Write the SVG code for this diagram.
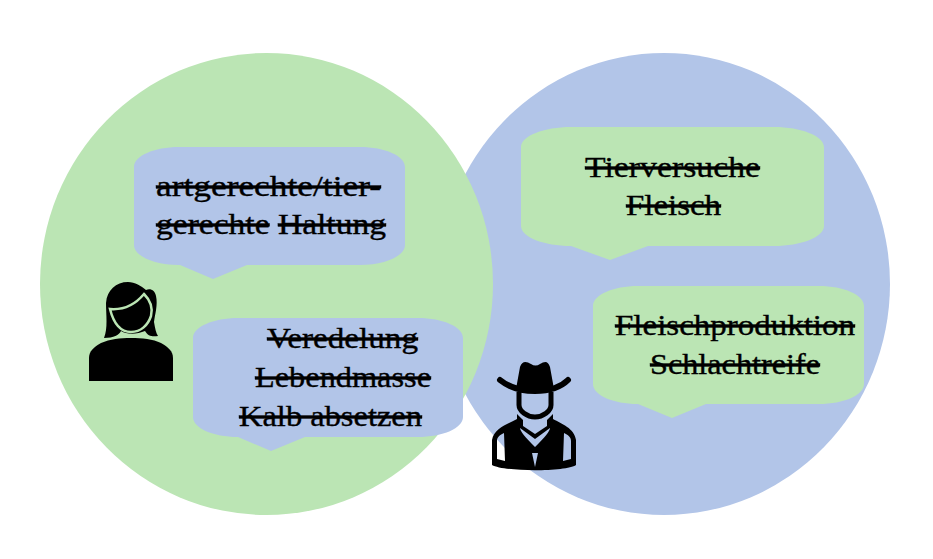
<svg xmlns="http://www.w3.org/2000/svg" width="933" height="559" viewBox="0 0 933 559">
<style>
.g{fill:#bbe5b4}
.b{fill:#b2c5e8}
text{font-family:"Liberation Serif","Times New Roman",serif;font-size:30px;fill:#000;stroke:#000;stroke-width:.35}
.s{text-decoration:line-through}
</style>
<rect width="933" height="559" fill="#fff"/>
<g id="circle-right"><ellipse class="b" cx="664" cy="284" rx="226" ry="231"/></g>
<g id="circle-left"><ellipse class="g" cx="266.500" cy="284" rx="226.500" ry="231"/></g>
<g id="bubble-1">
<path class="b" d="M134 167C134 156 154 147 179 147H360C385 147 405 156 405 167V245C405 256 385 265 360 265H247L213 279L180 265H179C154 265 134 256 134 245Z"/>
<text class="s" x="156" y="196" textLength="225" lengthAdjust="spacingAndGlyphs">artgerechte/tier-</text>
<text x="156" y="234" textLength="230" lengthAdjust="spacingAndGlyphs"><tspan class="s">gerechte</tspan> <tspan class="s">Haltung</tspan></text>
</g>
<g id="bubble-2">
<path class="b" d="M193 338C193 327 213 318 238 318H418C443 318 463 327 463 338V417C463 428 443 437 418 437H305L271 451L238 437C213 437 193 428 193 417Z"/>
<text class="s" x="267" y="348" textLength="151" lengthAdjust="spacingAndGlyphs">Veredelung</text>
<text class="s" x="255" y="387" textLength="176" lengthAdjust="spacingAndGlyphs">Lebendmasse</text>
<text class="s" x="239" y="426" textLength="183" lengthAdjust="spacingAndGlyphs">Kalb absetzen</text>
</g>
<g id="bubble-3">
<path class="g" d="M521 147C521 136 544 127 571 127H774C801 127 824 136 824 147V226C824 237 801 246 774 246H648L610 260L571 246C544 246 521 237 521 226Z"/>
<text class="s" x="585" y="177" textLength="175" lengthAdjust="spacingAndGlyphs">Tierversuche</text>
<text class="s" x="626" y="215" textLength="95" lengthAdjust="spacingAndGlyphs">Fleisch</text>
</g>
<g id="bubble-4">
<path class="g" d="M593 306C593 295 613 286 638 286H819C844 286 864 295 864 306V384C864 395 844 404 819 404H706L672 418L638 404C613 404 593 395 593 384Z"/>
<text class="s" x="615" y="335" textLength="240" lengthAdjust="spacingAndGlyphs">Fleischproduktion</text>
<text class="s" x="650" y="374" textLength="170" lengthAdjust="spacingAndGlyphs">Schlachtreife</text>
</g>
<g id="woman">
<path d="M89 381V358C89 351 94 347 101 343C110 339 120 338 131 338C142 338 153 339 161 343C168 347 173 351 173 358V381Z"/>
<path d="M104 338C108 328 106 315 106 303C107 290 116 282 128 282C135 282 141 286 146 290C151 288 155 291 156 296C158 305 155 314 154 322C155 328 156 333 158 336C152 337 148 336 145 331C138 334 127 335 121 331C119 335 114 338 104 338Z"/>
<path d="M110 309C122 310 134 306 144 294C150 300 153 308 151 316C148 325 141 332 131 332C122 332 114 325 110 309Z" fill="none" stroke="#bbe5b4" stroke-width="2.500"/>
</g>
<g id="farmer">
<path d="M500 380C510 388 522 391 535 391C548 391 560 388 568 380" fill="none" stroke="#000" stroke-width="6" stroke-linecap="round"/>
<path d="M516 389L520 367C522 361 526 361 531 364C534 366 537 366 540 364C545 361 548 361 550 367L554 389C546 392 524 392 516 389Z"/>
<path d="M519 392V405C519 411 527 417 535 417C543 417 551 411 551 405V392" fill="none" stroke="#000" stroke-width="5"/>
<path fill-rule="evenodd" d="M517 414L523 420V426L535 434L547 426V420L553 414V419C562 424 574 428 576 440V465C566 472 504 472 492 465V440C494 428 508 424 517 419ZM497 441V459L505 461L504 433C500 435 497 437 497 441ZM571 441C571 437 568 435 564 433L563 461L571 459ZM520 428C520 431 525 437 535 447C545 437 550 431 550 428L535 439ZM532 453L535 467L538 453Z"/>
</g>
</svg>
